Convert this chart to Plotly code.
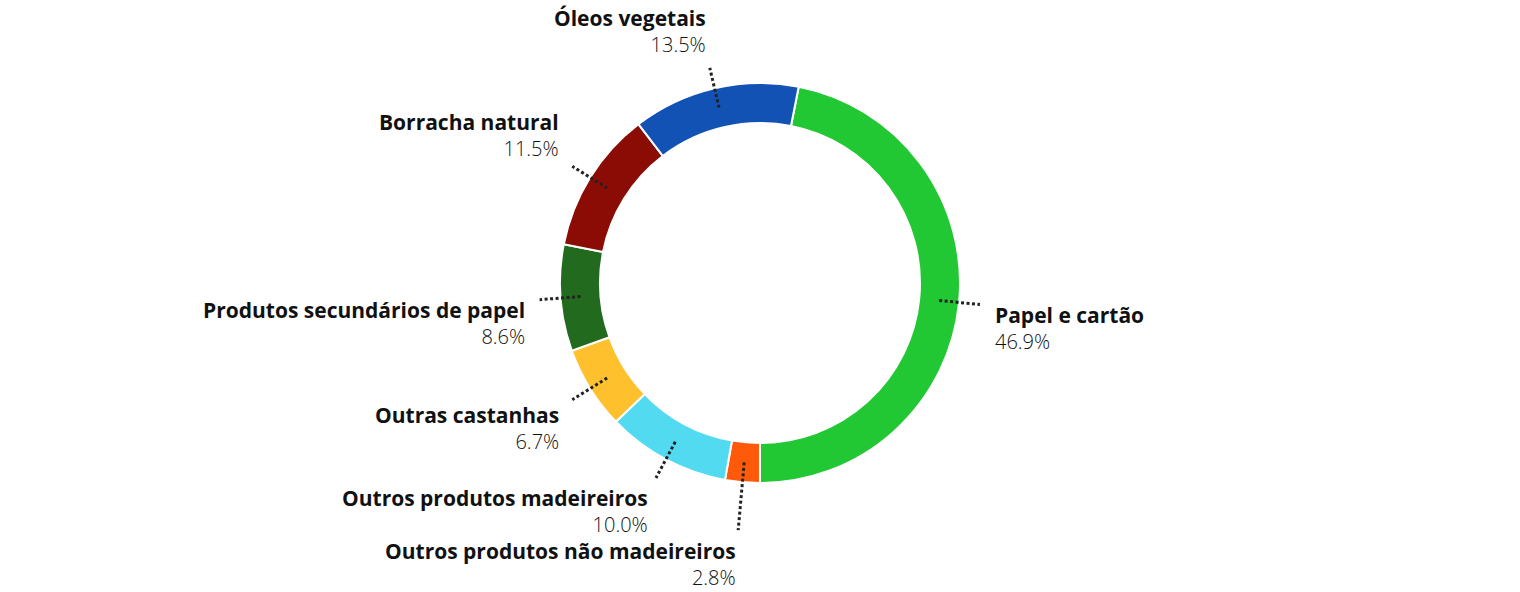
import math
import plotly.graph_objects as go

# dados (percentual)
categorias = ['Papel e cartão', 'Outros produtos não madeireiros', 'Outros produtos madeireiros',
              'Outras castanhas', 'Produtos secundários de papel', 'Borracha natural', 'Óleos vegetais']
valores = [46.9, 2.8, 10.0, 6.7, 8.6, 11.5, 13.5]
cores = ['#22c833', '#ff5a0a', '#52daf0', '#ffc02e', '#226b1e', '#8b0c05', '#1352b5']

W, H = 1520, 592
cx, cy, R = 760, 283, 200
FONTE = 'Open Sans'

total = sum(valores)
# a fatia "Papel e cartão" termina exatamente na parte de baixo (6 horas)
rotacao = 180 - 360 * valores[0] / total

fig = go.Figure()
fig.add_trace(go.Pie(
    labels=categorias,
    values=valores,
    sort=False,
    direction='clockwise',
    rotation=rotacao,
    hole=0.8,
    marker=dict(colors=cores, line=dict(color='white', width=2)),
    textinfo='none',
    hoverinfo='label+percent',
    showlegend=False,
    domain=dict(x=[(cx - R) / W, (cx + R) / W], y=[(H - cy - R) / H, (H - cy + R) / H]),
))

# linhas pontilhadas e rótulos
raio_ext = [221, 248, 221, 221, 221, 221, 221]
shapes = []
annotations = []
ang = rotacao
for i, (cat, v) in enumerate(zip(categorias, valores)):
    span = 360 * v / total
    meio = math.radians(ang + span / 2)
    ang += span
    s, c = math.sin(meio), math.cos(meio)
    x0, y0 = cx + 180 * s, cy - 180 * c
    x1, y1 = cx + raio_ext[i] * s, cy - raio_ext[i] * c
    shapes.append(dict(type='line', xref='x', yref='y', x0=x0, y0=y0, x1=x1, y1=y1,
                       line=dict(color='#222222', width=3, dash='3px,2.5px'), layer='above'))
    topo = c <= 0
    annotations.append(dict(
        xref='x', yref='y', x=x1 + 14 * s, y=y1 - 12 * c + (-6 if topo else 3),
        xanchor='left' if s > 0 else 'right',
        yanchor='top' if topo else 'bottom',
        align='left' if s > 0 else 'right',
        showarrow=False, borderpad=0,
        text=(f'<span style="font-size:21px"><b>{cat}</b></span><br>'
              f'<span style="font-weight:300">{v:.1f}%</span>'),
        font=dict(family=FONTE, size=20, color='#111111'),
    ))

fig.update_layout(
    width=W, height=H,
    margin=dict(l=0, r=0, t=0, b=0),
    paper_bgcolor='white', plot_bgcolor='white',
    xaxis=dict(range=[0, W], visible=False, fixedrange=True),
    yaxis=dict(range=[H, 0], visible=False, fixedrange=True),
    shapes=shapes,
    annotations=annotations,
)

# sem margem no body para o gráfico ocupar a janela inteira
fig.write_html('out.html', config={'displayModeBar': False},
               post_script="document.body.style.margin='0';")
